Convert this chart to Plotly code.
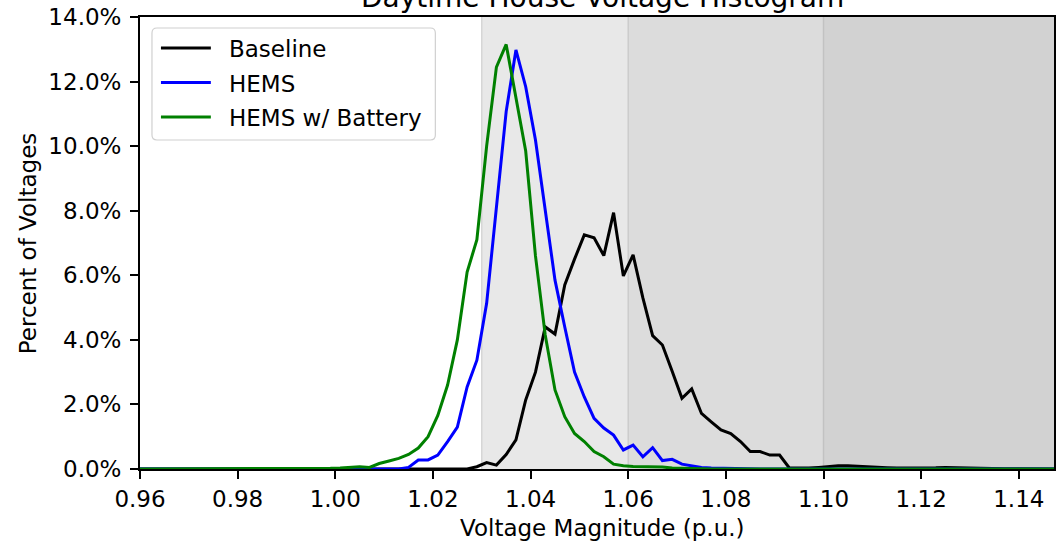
import plotly.graph_objects as go

# ---------------- data ----------------
BIN_FIRST = 0.955
BIN_WIDTH = 0.002
N_BINS = 98
bin_centers = [round(BIN_FIRST + BIN_WIDTH * i, 3) for i in range(N_BINS)]

# percent of voltages per bin (non-zero stretch, first bin given)
baseline_first = 1.027
baseline_values = [0.0, 0.07, 0.2, 0.12, 0.45, 0.9, 2.14, 3.0, 4.4, 4.18,
                   5.7, 6.5, 7.25, 7.16, 6.61, 7.94, 5.98, 6.63, 5.3, 4.13,
                   3.84, 3.03, 2.19, 2.48, 1.72, 1.46, 1.21, 1.1, 0.85, 0.54,
                   0.54, 0.43, 0.43, 0.03, 0.02, 0.03, 0.05, 0.08, 0.1, 0.1,
                   0.08, 0.08, 0.05, 0.04, 0.03, 0.03, 0.03, 0.02, 0.04, 0.05,
                   0.04, 0.03, 0.03, 0.02, 0.02, 0.01, 0.01, 0.01, 0.0]

hems_first = 1.013
hems_values = [0.0, 0.05, 0.28, 0.28, 0.43, 0.85, 1.3, 2.54, 3.37, 5.13,
               8.1, 11.07, 12.98, 11.84, 10.19, 8.0, 5.85, 4.4, 3.0, 2.23,
               1.57, 1.27, 1.05, 0.59, 0.74, 0.38, 0.66, 0.26, 0.3, 0.15,
               0.1, 0.05, 0.03, 0.02, 0.01, 0.0]

battery_first = 0.985
battery_values = [0.01, 0.01, 0.01, 0.01, 0.01, 0.01, 0.02, 0.02, 0.03, 0.04,
                  0.07, 0.05, 0.17, 0.25, 0.33, 0.45, 0.65, 1.0, 1.66, 2.6,
                  4.0, 6.1, 7.1, 10.0, 12.45, 13.15, 11.45, 9.85, 6.6, 4.15,
                  2.45, 1.62, 1.1, 0.85, 0.54, 0.38, 0.15, 0.1, 0.08, 0.08,
                  0.07, 0.06, 0.03, 0.02, 0.0]

series_names = ["Baseline", "HEMS", "HEMS w/ Battery"]
series_colors = ["#000000", "#0000ff", "#008000"]

# shaded voltage bands
band_edges = [1.03, 1.06, 1.10, 1.16]
band_fills = ["#e8e8e8", "#dcdcdc", "#d2d2d2"]
band_edge_colors = ["#d6d6d6", "#cbcbcb", "#c2c2c2"]

x_ticks = [0.96, 0.98, 1.00, 1.02, 1.04, 1.06, 1.08, 1.10, 1.12, 1.14]
y_ticks = [0, 2, 4, 6, 8, 10, 12, 14]

title_text = "Daytime House Voltage Histogram"
x_label = "Voltage Magnitude (p.u.)"
y_label = "Percent of Voltages"


def full_series(first, values):
    start = round((first - BIN_FIRST) / BIN_WIDTH)
    out = [0.0] * N_BINS
    for k, v in enumerate(values):
        if 0 <= start + k < N_BINS:
            out[start + k] = v
    return out


series_values = [full_series(baseline_first, baseline_values),
                 full_series(hems_first, hems_values),
                 full_series(battery_first, battery_values)]

# ---------------- figure ----------------
W, H = 1056, 545
ML, MR, MT, MB = 140, 0, 17, 76
PW, PH = W - ML - MR, H - MT - MB
X0 = 0.96
XPX = 4893.0  # pixels per p.u.
X1 = X0 + PW / XPX

FONT = "DejaVu Sans"


def px_to_paper_x(px):
    return (px - ML) / PW


def px_to_paper_y(py):
    return 1 - (py - MT) / PH


fig = go.Figure()
for name, color, vals in zip(series_names, series_colors, series_values):
    fig.add_trace(go.Scatter(x=bin_centers, y=vals, mode="lines", name=name,
                             showlegend=False,
                             line=dict(color=color, width=3)))

shapes = []
for i, fill in enumerate(band_fills):
    shapes.append(dict(type="rect", xref="x", yref="paper",
                       x0=band_edges[i], x1=band_edges[i + 1], y0=0, y1=1,
                       fillcolor=fill, line=dict(width=0), layer="below"))
    shapes.append(dict(type="line", xref="x", yref="paper",
                       x0=band_edges[i], x1=band_edges[i], y0=0, y1=1,
                       line=dict(color=band_edge_colors[i], width=1.5),
                       layer="below"))

# legend box (matplotlib style, rounded corners)
LB_L, LB_R, LB_T, LB_B, R = 152, 436, 28, 140, 5
def P(px, py):
    return f"{px_to_paper_x(px):.6f},{px_to_paper_y(py):.6f}"
legend_path = (f"M{P(LB_L + R, LB_T)} L{P(LB_R - R, LB_T)} "
               f"Q{P(LB_R, LB_T)} {P(LB_R, LB_T + R)} "
               f"L{P(LB_R, LB_B - R)} Q{P(LB_R, LB_B)} {P(LB_R - R, LB_B)} "
               f"L{P(LB_L + R, LB_B)} Q{P(LB_L, LB_B)} {P(LB_L, LB_B - R)} "
               f"L{P(LB_L, LB_T + R)} Q{P(LB_L, LB_T)} {P(LB_L + R, LB_T)} Z")
shapes.append(dict(type="path", xref="paper", yref="paper", path=legend_path,
                   fillcolor="rgba(255,255,255,0.8)",
                   line=dict(color="#d0d0d0", width=1.2), layer="above"))

legend_rows = [48, 82.5, 117]
annotations = []
for name, color, ry in zip(series_names, series_colors, legend_rows):
    shapes.append(dict(type="line", xref="paper", yref="paper",
                       x0=px_to_paper_x(161), x1=px_to_paper_x(211),
                       y0=px_to_paper_y(ry), y1=px_to_paper_y(ry),
                       line=dict(color=color, width=3), layer="above"))
    annotations.append(dict(text=name, x=px_to_paper_x(227),
                            y=px_to_paper_y(ry + 1),
                            xref="paper", yref="paper", xanchor="left",
                            yanchor="middle", showarrow=False,
                            font=dict(family=FONT, size=23, color="#000")))

annotations += [
    dict(text=title_text, x=px_to_paper_x(604), y=px_to_paper_y(-2),
         xref="paper", yref="paper", xanchor="center", yanchor="middle",
         showarrow=False, font=dict(family=FONT, size=28, color="#000")),
    dict(text=x_label, x=px_to_paper_x(604), y=px_to_paper_y(528),
         xref="paper", yref="paper", xanchor="center", yanchor="middle",
         showarrow=False, font=dict(family=FONT, size=23, color="#000")),
    dict(text=y_label, x=px_to_paper_x(28), y=px_to_paper_y(243),
         xref="paper", yref="paper", xanchor="center", yanchor="middle",
         textangle=-90, showarrow=False,
         font=dict(family=FONT, size=23, color="#000")),
]

fig.update_layout(
    width=W, height=H,
    margin=dict(l=ML, r=MR, t=MT, b=MB, pad=0),
    plot_bgcolor="white", paper_bgcolor="white",
    font=dict(family=FONT, size=23, color="#000"),
    shapes=shapes,
    annotations=annotations,
    showlegend=False,
)

fig.update_xaxes(range=[X0, X1], tickmode="array", tickvals=x_ticks,
                 ticktext=[f"{v:.2f}" for v in x_ticks],
                 showgrid=False, zeroline=False,
                 showline=True, linecolor="#000", linewidth=1.9, mirror=True,
                 ticks="outside", ticklen=8, tickwidth=1.9, tickcolor="#000",
                 tickfont=dict(family=FONT, size=23, color="#000"))
fig.update_yaxes(range=[0, 14], tickmode="array", tickvals=y_ticks,
                 ticktext=[f"{v:.1f}%" for v in y_ticks],
                 showgrid=False, zeroline=False,
                 showline=True, linecolor="#000", linewidth=1.9, mirror=True,
                 ticks="outside", ticklen=8, tickwidth=1.9, tickcolor="#000",
                 ticklabelstandoff=4,
                 tickfont=dict(family=FONT, size=23, color="#000"))

fig.write_html("out.html")
